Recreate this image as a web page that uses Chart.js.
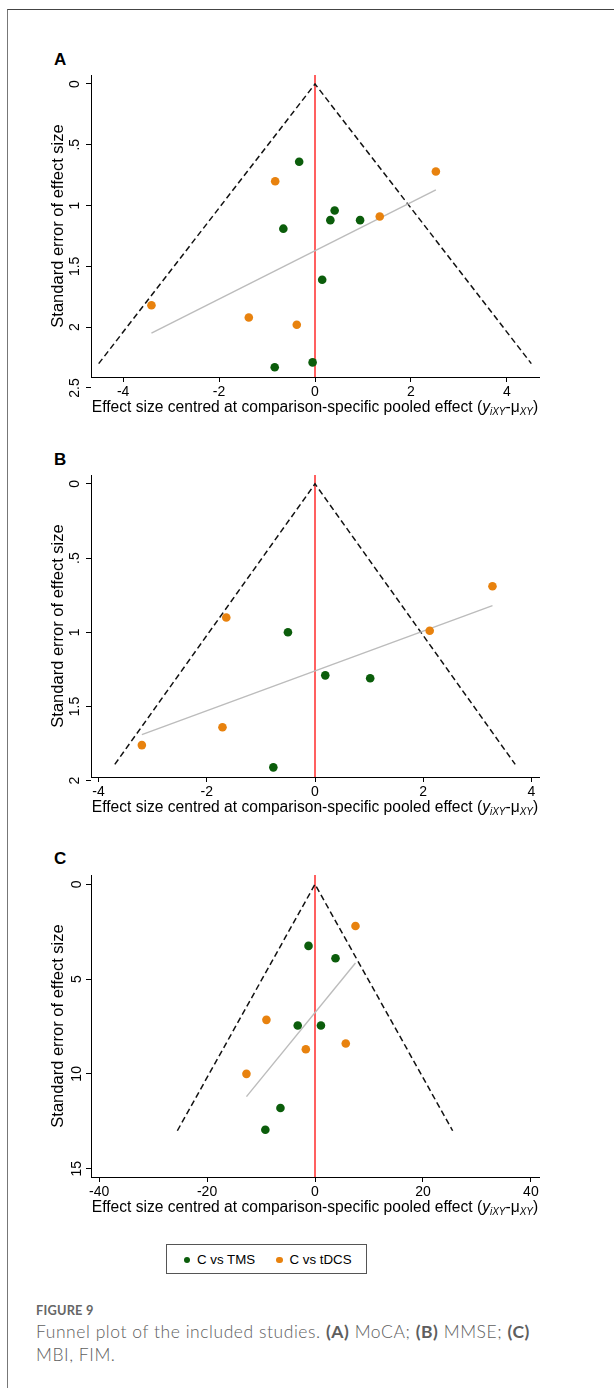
<!DOCTYPE html>
<html>
<head>
<meta charset="utf-8">
<script src="https://cdn.jsdelivr.net/npm/chart.js@4.4.1/dist/chart.umd.min.js"></script>
<style>
  body { margin: 0; background: #fff; }
  #page { position: relative; width: 614px; height: 1388px; overflow: hidden; font-family: "Liberation Sans", Arial, sans-serif; color: #000; }
  .frame { position: absolute; left: 7px; top: 9px; width: 700px; height: 1500px; border-top: 1.5px solid #444; border-left: 1px solid #777; }
  .panel { position: absolute; left: 0; width: 560px; height: 367px; }
  .tag { position: absolute; left: 54px; font-weight: bold; font-size: 17px; line-height: 17px; }
  .xtitle { position: absolute; left: 91px; width: 448px; text-align: center; font-size: 15.6px; line-height: 20px; white-space: nowrap; }
  .xtitle sub { font-size: 10px; vertical-align: -3px; line-height: 0; font-style: italic; }
  .legend { position: absolute; left: 166px; top: 1244px; width: 201px; height: 30px; box-sizing: border-box; border: 1px solid #555; font-size: 13.3px; }
  .legend .dot { position: absolute; top: 11.5px; width: 6.5px; height: 6.5px; border-radius: 50%; }
  .legend .lab { position: absolute; top: 7px; line-height: 15px; white-space: nowrap; }
  .fig { position: absolute; left: 36px; top: 1303.5px; font-family: "Lato", "Open Sans", sans-serif; font-weight: 700; font-size: 12.8px; line-height: 13px; color: #666; letter-spacing: 0.2px; }
  .cap { position: absolute; left: 36px; top: 1321.4px; width: 570px; font-family: "Lato", "Open Sans", sans-serif; font-weight: 300; font-size: 17.5px; line-height: 22.3px; color: #5e5e5e; letter-spacing: 0.55px; }
  .cap b { font-weight: 700; color: #5e5e5e; }
</style>
</head>
<body>
<div id="page">
  <div class="frame"></div>

  <div class="tag" style="top:51px">A</div>
  <div class="panel" style="top:40px"><canvas id="chartA"></canvas></div>
  <div class="xtitle" style="top:397px">Effect size centred at comparison-specific pooled effect (<i>y</i><sub>iXY</sub>-μ<sub>XY</sub>)</div>

  <div class="tag" style="top:451px">B</div>
  <div class="panel" style="top:440px"><canvas id="chartB"></canvas></div>
  <div class="xtitle" style="top:797px">Effect size centred at comparison-specific pooled effect (<i>y</i><sub>iXY</sub>-μ<sub>XY</sub>)</div>

  <div class="tag" style="top:850px">C</div>
  <div class="panel" style="top:840px"><canvas id="chartC"></canvas></div>
  <div class="xtitle" style="top:1197px">Effect size centred at comparison-specific pooled effect (<i>y</i><sub>iXY</sub>-μ<sub>XY</sub>)</div>

  <div class="legend">
    <span class="dot" style="left:16.5px;background:#0b5d0b"></span><span class="lab" style="left:30px">C vs TMS</span>
    <span class="dot" style="left:109px;background:#e8820e"></span><span class="lab" style="left:122.5px">C vs tDCS</span>
  </div>

  <div class="fig">FIGURE 9</div>
  <div class="cap">Funnel plot of the included studies. <b>(A)</b> MoCA; <b>(B)</b> MMSE; <b>(C)</b><br>MBI, FIM.</div>
</div>

<script>
// (A) MoCA
const tmsXA = [-0.33, 0.41, 0.32, 0.94, -0.66, 0.15, -0.05, -0.84];
const tmsYA = [0.64, 1.04, 1.12, 1.12, 1.19, 1.61, 2.29, 2.33];
const tdcsXA = [-0.83, 2.52, 1.35, -3.41, -1.38, -0.38];
const tdcsYA = [0.80, 0.72, 1.09, 1.82, 1.92, 1.98];
const funnelXA = [-4.51, 0, 4.51];
const funnelYA = [2.3, 0, 2.3];
const fitXA = [-3.41, 2.52];
const fitYA = [2.05, 0.87];
const xTicksA = [-4, -2, 0, 2, 4];
const yTicksA = [0, 0.5, 1, 1.5, 2, 2.5];
const xRangeA = [-4.67, 4.67];
const yRangeA = [-0.074, 2.41];

// (B) MMSE
const tmsXB = [-0.50, 0.19, 1.02, -0.77];
const tmsYB = [1.00, 1.29, 1.31, 1.91];
const tdcsXB = [3.28, -1.64, 2.12, -1.71, -3.20];
const tdcsYB = [0.69, 0.90, 0.99, 1.64, 1.76];
const funnelXB = [-3.70, 0, 3.70];
const funnelYB = [1.89, 0, 1.89];
const fitXB = [-3.20, 3.28];
const fitYB = [1.69, 0.82];
const xTicksB = [-4, -2, 0, 2, 4];
const yTicksB = [0, 0.5, 1, 1.5, 2];
const xRangeB = [-4.14, 4.14];
const yRangeB = [-0.06, 1.975];

// (C) MBI, FIM
const tmsXC = [-1.2, 3.8, -3.2, 1.1, -6.4, -9.2];
const tmsYC = [3.25, 3.9, 7.45, 7.45, 11.8, 12.95];
const tdcsXC = [7.5, -9.0, 5.7, -1.7, -12.7];
const tdcsYC = [2.2, 7.15, 8.4, 8.7, 10.0];
const funnelXC = [-25.5, 0, 25.5];
const funnelYC = [13.0, 0, 13.0];
const fitXC = [-12.7, 7.5];
const fitYC = [11.2, 4.15];
const xTicksC = [-40, -20, 0, 20, 40];
const yTicksC = [0, 5, 10, 15];
const xRangeC = [-41.5, 41.5];
const yRangeC = [-0.49, 15.44];

const GREEN = '#0b5d0b';
const ORANGE = '#e8820e';
const RED = '#ff4545';

Chart.defaults.font.family = '"Liberation Sans", Arial, sans-serif';
Chart.defaults.color = '#000';

function toPoints(xs, ys) {
    return xs.map((x, i) => ({ x: x, y: ys[i] }));
}

// stata style labels: .5 instead of 0.5
function stataLabel(v) {
    const s = String(v);
    if (s.startsWith('0.')) return s.slice(1);
    if (s.startsWith('-0.')) return '-' + s.slice(2);
    return s;
}

function axisBase(ticks, range) {
    return {
        type: 'linear',
        min: range[0],
        max: range[1],
        afterBuildTicks: scale => { scale.ticks = ticks.map(v => ({ value: v })); },
        grid: { display: true, drawOnChartArea: false, drawTicks: true, tickLength: 5, color: '#000', lineWidth: 1 },
        border: { display: true, color: '#000', width: 1 }
    };
}

function drawPanel(id, d) {
    const x = axisBase(d.xTicks, d.xRange);
    x.position = 'bottom';
    x.afterFit = scale => { scale.height = 30; };
    x.ticks = { font: { size: 14 }, padding: 1.5, maxRotation: 0, autoSkip: false, callback: v => stataLabel(v) };

    const y = axisBase(d.yTicks, d.yRange);
    y.position = 'left';
    y.reverse = true;
    y.afterFit = scale => { scale.width = 46; };
    y.ticks = { font: { size: 14 }, padding: 1, minRotation: 90, maxRotation: 90, crossAlign: 'center', autoSkip: false, callback: v => stataLabel(v) };
    y.title = { display: true, text: 'Standard error of effect size', font: { size: 16.5 }, padding: { top: 4, bottom: 0 } };

    new Chart(document.getElementById(id), {
        type: 'scatter',
        data: {
            datasets: [
                { label: 'C vs TMS', data: toPoints(d.tmsX, d.tmsY), backgroundColor: GREEN, borderWidth: 0, pointRadius: 4.3 },
                { label: 'C vs tDCS', data: toPoints(d.tdcsX, d.tdcsY), backgroundColor: ORANGE, borderWidth: 0, pointRadius: 4.3 },
                { type: 'line', label: 'fit', data: toPoints(d.fitX, d.fitY), borderColor: '#bcbcbc', borderWidth: 1.4, pointRadius: 0, fill: false },
                { type: 'line', label: 'funnel', data: toPoints(d.funnelX, d.funnelY), borderColor: '#111', borderWidth: 1.5, borderDash: [6, 3.5], pointRadius: 0, fill: false },
                { type: 'line', label: 'null', data: toPoints([0, 0], d.yRange), borderColor: RED, borderWidth: 1.7, pointRadius: 0, fill: false }
            ]
        },
        options: {
            responsive: true,
            maintainAspectRatio: false,
            animation: false,
            layout: { padding: { left: 45, top: 35, right: 21, bottom: 0 } },
            plugins: { legend: { display: false }, tooltip: { enabled: false } },
            scales: { x: x, y: y }
        }
    });
}

drawPanel('chartA', { tmsX: tmsXA, tmsY: tmsYA, tdcsX: tdcsXA, tdcsY: tdcsYA, funnelX: funnelXA, funnelY: funnelYA,
    fitX: fitXA, fitY: fitYA, xTicks: xTicksA, yTicks: yTicksA, xRange: xRangeA, yRange: yRangeA });
drawPanel('chartB', { tmsX: tmsXB, tmsY: tmsYB, tdcsX: tdcsXB, tdcsY: tdcsYB, funnelX: funnelXB, funnelY: funnelYB,
    fitX: fitXB, fitY: fitYB, xTicks: xTicksB, yTicks: yTicksB, xRange: xRangeB, yRange: yRangeB });
drawPanel('chartC', { tmsX: tmsXC, tmsY: tmsYC, tdcsX: tdcsXC, tdcsY: tdcsYC, funnelX: funnelXC, funnelY: funnelYC,
    fitX: fitXC, fitY: fitYC, xTicks: xTicksC, yTicks: yTicksC, xRange: xRangeC, yRange: yRangeC });
</script>
</body>
</html>
